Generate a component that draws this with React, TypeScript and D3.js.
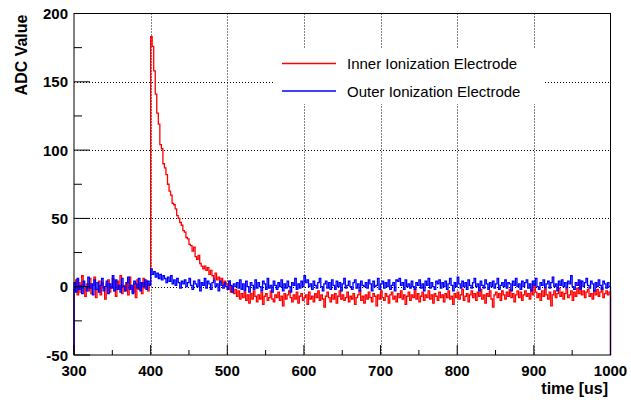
import React from "react";
import * as d3 from "d3";

// Bin width 2 us, bins start at 300
const binStart = 300;
const binWidth = 2;

const innerPre = [-2, 5, -6, 3, -4, 8, -1, -7, 2, -3, 6, -5, 1, 7, -8, -2, 4, -6, 3, -1, -9, 2, 5, -4, 0, 6, -3, -7, 4, -2, 8, -5, 1, -3, 3, -6, 7, -1, -4, 2, -8, 5, -2, 3, -5, 6, -1, 4, -3, 2];
const innerPulse = [183, 176, 158, 141, 127, 119, 104, 101, 90, 87, 82, 75, 70, 67, 61, 60, 57, 52, 50, 47, 45, 41, 40, 36, 35, 31, 30, 26, 29, 22, 20, 23, 17, 15, 13, 15, 12, 14, 9, 12, 8, 6, 10, 5, 7, 3, 6, 1, 4, 2, -2, 4, -4, 0, -5, -2, -7, -3, -9, -5];
const innerPost = [
  -8, -4, -10, -6, -12, -5, -9, -3, -7, -11,
  -6, -9, -4, -13, -7, -5, -10, -8, -3, -9,
  -11, -6, -8, -4, -10, -7, -14, -5, -9, -6,
  -3, -8, -11, -6, -9, -4, -12, -7, -5, -10,
  -8, -6, -13, -4, -9, -7, -11, -5, -8, -3,
  -10, -6, -9, -15, -7, -4, -8, -11, -6, -9,
  -5, -12, -7, -3, -9, -6, -10, -8, -4, -11,
  -7, -9, -5, -13, -8, -6, -3, -10, -7, -12,
  -6, -9, -4, -8, -11, -5, -7, -14, -6, -9,
  -3, -8, -10, -5, -7, -12, -6, -4, -9, -7,
  -11, -5, -8, -3, -9, -6, -13, -7, -4, -10,
  -6, -8, -2, -9, -5, -11, -7, -4, -10, -6,
  -8, -3, -9, -6, -12, -5, -7, -10, -4, -8,
  -6, -11, -5, -8, -3, -9, -7, -13, -5, -8,
  -4, -9, -6, -2, -10, -7, -5, -11, -6, -3,
  -8, -5, -10, -4, -7, -2, -9, -6, -12, -5,
  -7, -3, -9, -15, -6, -4, -8, -5, -10, -3,
  -6, -9, -4, -7, -2, -8, -5, -11, -6, -3,
  -8, -4, -10, -6, -3, -7, -5, -9, -2, -6,
  2, -4, -8, -5, -10, -3, -7, -2, -6, -9,
  -4, -14, -6, -3, -8, -5, -1, -7, -4, -9,
  -5, -2, -8, -6, -3, -10, -4, -7, -1, -5,
  4, -6, -3, -8, -4, -2, -7, -5, -9, -3,
  -6, -2, -7, -4, -1, -8, -5, -3, -6, -4,
];

const outerPre = [3, -4, 6, -2, 1, -5, 4, 0, -3, 7, -1, 2, -6, 5, -2, 3, -4, 1, 6, -3, 0, 4, -5, 2, -1, 8, -3, 5, -2, 1, -4, 6, 0, -3, 3, 7, -2, 1, -5, 4, 2, -1, 6, -3, 3, 0, 5, -2, 4, 1];
const outerPulse = [13, 9, 11, 7, 10, 6, 9, 5, 8, 6, 3, 7, 4, 8, 2, 5, 1, 6, 3, -1, 4, 2, 5, 0, 3, 6, 1, -2, 4, 2, 0, 5, -3, 3, 1, 6, -1, 4, 2, -2, 3, 5, 0, 2, -3, 4, 1, -1, 3, 0, -2, 4, 1, -4, 2, 0, 3, -1, 5, -2];
const outerPost = [
  2, -3, 4, 0, -4, 3, 1, -2, 5, -1,
  3, 0, -3, 4, 2, -2, 6, -1, 1, -4,
  4, 1, -2, 3, 0, 5, -3, 2, -1, 4,
  0, -4, 3, 1, 6, -2, 2, -1, 4, 0,
  8, 3, 5, 0, 2, -2, 4, 1, -1, 3,
  6, 0, -3, 2, 4, -1, 3, -2, 5, 1,
  -2, 4, 0, 3, -3, 2, 6, -1, 1, 4,
  0, -2, 3, 5, -1, 2, -3, 4, 1, 0,
  3, -1, 5, 2, -3, 4, 0, 1, 6, -2,
  2, 4, -1, 3, 0, 5, -2, 1, 3, -3,
  5, 4, 6, 1, 3, -2, 5, 0, 2, -1,
  4, 0, -2, 3, 1, 5, -1, 2, -3, 4,
  1, 6, -1, 3, 0, -2, 4, 2, 5, -1,
  3, 0, 4, -2, 2, 6, 1, -3, 3, 0,
  7, 2, -1, 4, 0, 3, -2, 5, 1, -1,
  3, 6, 0, 2, -3, 4, 1, -1, 5, 2,
  -2, 3, 0, 4, -1, 2, 6, -2, 1, 3,
  0, 5, -1, 3, 2, -3, 4, 1, 6, 0,
  2, -2, 4, 0, 3, 5, -1, 2, -3, 4,
  1, 6, 0, -2, 3, 1, 5, -1, 2, 4,
  -1, 3, 7, 0, 2, -3, 4, 1, 5, 0,
  3, -1, 4, 2, 8, 0, -2, 3, 1, 5,
  -2, 4, 0, 3, 6, 1, -1, 4, 2, -3,
  3, 0, 5, 1, -2, 4, 2, -1, 3, 0,
];

const innerValues = [...innerPre, ...innerPulse, ...innerPost];
const outerValues = [...outerPre, ...outerPulse, ...outerPost];

const xTicks = [300, 400, 500, 600, 700, 800, 900, 1000];
const xMinor = [350, 450, 550, 650, 750, 850, 950];
const yTicks = [-50, 0, 50, 100, 150, 200];
const yMinor = [-25, 25, 75, 125, 175];
const xGrid = [400, 500, 600, 700, 800, 900];
const yGrid = [0, 50, 100, 150];

const legendItems = [
  { label: "Inner Ionization Electrode", color: "#ff0000" },
  { label: "Outer Ionization Electrode", color: "#0000ff" },
];

const W = 631;
const H = 402;
const L = 74;
const R = 610.5;
const T = 13.5;
const B = 355;

const font = "'Liberation Sans', Arial, Helvetica, sans-serif";

export default function App() {
  const x = d3.scaleLinear().domain([300, 1000]).range([L, R]);
  const y = d3.scaleLinear().domain([-50, 200]).range([B, T]);

  const histPath = (vals: number[]) => {
    const pts: [number, number][] = [[binStart, -50]];
    vals.forEach((v, i) => pts.push([binStart + i * binWidth, v]));
    const endX = binStart + vals.length * binWidth;
    pts.push([endX, vals[vals.length - 1]]);
    pts.push([endX, -50]);
    return d3
      .line<[number, number]>()
      .x((d) => x(d[0]))
      .y((d) => y(d[1]))
      .curve(d3.curveStepAfter)(pts) as string;
  };

  return (
    <svg
      width={W}
      height={H}
      style={{ position: "absolute", left: 0, top: 0, background: "#fff" }}
      fontFamily={font}
    >
      <rect x={0} y={0} width={W} height={H} fill="#fff" />
      {/* grid */}
      {xGrid.map((g) => (
        <line key={"gx" + g} x1={Math.round(x(g)) + 0.5} x2={Math.round(x(g)) + 0.5} y1={T} y2={B} stroke="#000" strokeWidth={1} strokeDasharray="1,2" />
      ))}
      {yGrid.map((g) => (
        <line key={"gy" + g} x1={L} x2={R} y1={Math.round(y(g)) + 0.5} y2={Math.round(y(g)) + 0.5} stroke="#000" strokeWidth={1} strokeDasharray="1,2" />
      ))}
      {/* legend box */}
      <rect x={273} y={48} width={272} height={56} fill="#fff" />
      {/* data */}
      <path d={histPath(innerValues)} fill="none" stroke="#ff0000" strokeWidth={1.3} />
      <path d={histPath(outerValues)} fill="none" stroke="#0000ff" strokeWidth={1.3} />
      {/* frame */}
      <rect x={L} y={T} width={R - L} height={B - T} fill="none" stroke="#000" strokeWidth={1} />
      {/* x ticks */}
      {xTicks.map((t) => (
        <line key={"xt" + t} x1={x(t)} x2={x(t)} y1={B} y2={B - 10} stroke="#000" />
      ))}
      {xMinor.map((t) => (
        <line key={"xm" + t} x1={x(t)} x2={x(t)} y1={B} y2={B - 5} stroke="#000" />
      ))}
      {xTicks.map((t) => (
        <text key={"xl" + t} x={x(t)} y={376} textAnchor="middle" fontSize={15} fontWeight="bold">
          {t}
        </text>
      ))}
      {/* y ticks */}
      {yTicks.map((t) => (
        <line key={"yt" + t} x1={L} x2={L + 16} y1={y(t)} y2={y(t)} stroke="#000" />
      ))}
      {yMinor.map((t) => (
        <line key={"ym" + t} x1={L} x2={L + 8} y1={y(t)} y2={y(t)} stroke="#000" />
      ))}
      {yTicks.map((t) => (
        <text key={"yl" + t} x={68} y={y(t) + 5.5} textAnchor="end" fontSize={15} fontWeight="bold">
          {t}
        </text>
      ))}
      {/* axis titles */}
      <text x={608} y={394} textAnchor="end" fontSize={16} fontWeight="bold">
        time [us]
      </text>
      <text transform={`translate(27,${T + 1}) rotate(-90)`} textAnchor="end" fontSize={16} fontWeight="bold">
        ADC Value
      </text>
      {/* legend */}
      {legendItems.map((it, i) => {
        const ly = 63.5 + i * 27.5;
        return (
          <g key={it.label}>
            <line x1={282} x2={336} y1={ly} y2={ly} stroke={it.color} strokeWidth={1.3} />
            <text x={347} y={ly + 5.5} fontSize={15}>
              {it.label}
            </text>
          </g>
        );
      })}
    </svg>
  );
}
